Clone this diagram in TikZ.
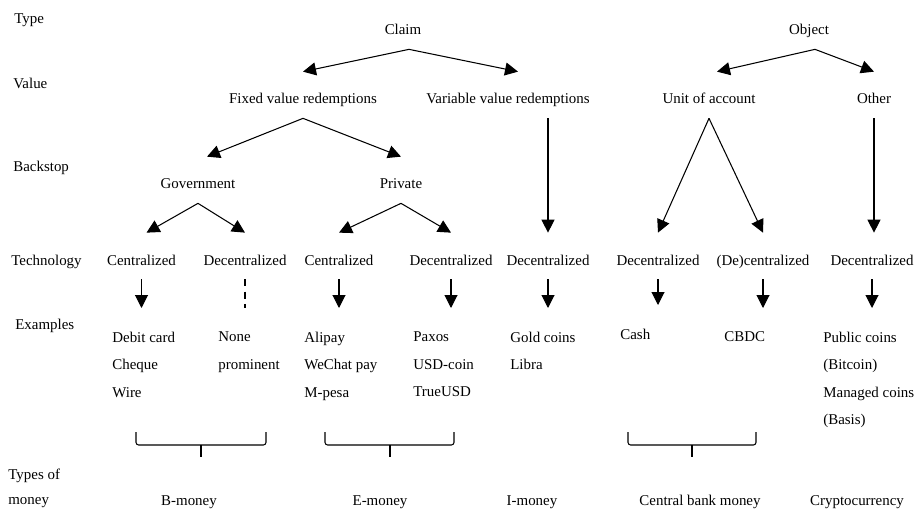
\documentclass[tikz,border=0pt]{standalone}
\usepackage{fontspec}
\setmainfont{Liberation Serif}
\usepackage{tikz}
\usetikzlibrary{arrows.meta}

\begin{document}
\begin{tikzpicture}[x=0.02cm, y=-0.02cm,
    every node/.style={font=\fontsize{8.5}{15.65}\selectfont},
    lvl/.style={anchor=base, inner sep=0pt, text height=0.64cm, text depth=0.28cm},
    riga/.style={anchor=base west, inner sep=0pt},
    esempi/.style={anchor=north west, align=left, inner xsep=0pt, inner ysep=0.47cm},
    freccia/.style={line width=0.6pt, -{Triangle[length=0.26cm, width=0.26cm]}},
    graffa/.style={line width=0.6pt, rounded corners=1.5pt}]
    \useasboundingbox (0,0) rectangle (917,510);

    % Etichette a sinistra
    \node[riga] (rType) at (14,24) {Type};
    \node[riga] (rValue) at (13,89) {Value};
    \node[riga] (rBack) at (13,172) {Backstop};
    \node[riga] (rTech) at (11,265) {Technology};
    \node[riga] (rEx) at (15,329) {Examples};
    \node[anchor=north west, align=left, inner sep=0pt,
        font=\fontsize{8.5}{14.2}\selectfont] (rMoney) at (8,469) {Types of\\money};

    % Albero
    \node[lvl] (claim) at (403,35) {Claim};
    \node[lvl] (object) at (809,35) {Object};
    \node[lvl] (fixed) at (303,104) {Fixed value redemptions};
    \node[lvl] (variable) at (508,104) {Variable value redemptions};
    \node[lvl] (unit) at (709,104) {Unit of account};
    \node[lvl] (other) at (874,104) {Other};
    \node[lvl] (gov) at (198,189) {Government};
    \node[lvl] (priv) at (401,189) {Private};

    \node[lvl] (cen1) at (141.5,265) {Centralized};
    \node[lvl] (dec1) at (245,265) {Decentralized};
    \node[lvl] (cen2) at (339,265) {Centralized};
    \node[lvl] (dec2) at (451,265) {Decentralized};
    \node[lvl] (dec3) at (548,265) {Decentralized};
    \node[lvl] (dec4) at (658,265) {Decentralized};
    \node[lvl] (decen) at (763,265) {(De)centralized};
    \node[lvl] (dec5) at (872,265) {Decentralized};

    % Esempi
    \node[esempi] (exA) at (112,308) {Debit card\\Cheque\\Wire};
    \node[esempi] (exB) at (218,308) {None\\prominent};
    \node[esempi] (exC) at (304,308) {Alipay\\WeChat pay\\M-pesa};
    \node[esempi] (exD) at (413,308) {Paxos\\USD-coin\\TrueUSD};
    \node[esempi] (exE) at (510,308) {Gold coins\\Libra};
    \node[esempi] (exF) at (620,305) {Cash};
    \node[esempi] (exG) at (724,308) {CBDC};
    \node[esempi] (exH) at (823,308) {Public coins\\(Bitcoin)\\Managed coins\\(Basis)};

    % Tipi di moneta
    \node[anchor=base, inner sep=0pt] (bmon) at (189,505) {B-money};
    \node[anchor=base, inner sep=0pt] (emon) at (380,505) {E-money};
    \node[anchor=base, inner sep=0pt] (imon) at (532,505) {I-money};
    \node[anchor=base, inner sep=0pt] (cbmon) at (700,505) {Central bank money};
    \node[anchor=base, inner sep=0pt] (crypto) at (857,505) {Cryptocurrency};

    % Frecce
    \draw[freccia] ([xshift=0.12cm]claim.south) -- (fixed.north);
    \draw[freccia] ([xshift=0.12cm]claim.south) -- ([xshift=0.2cm]variable.north);
    \draw[freccia] ([xshift=0.12cm]object.south) -- ([xshift=0.16cm]unit.north);
    \draw[freccia] ([xshift=0.12cm]object.south) -- (other.north);
    \draw[freccia] (fixed.south) -- ([xshift=0.18cm]gov.north);
    \draw[freccia] (fixed.south) -- (priv.north);
    \draw[freccia] (gov.south) -- ([xshift=0.1cm]cen1.north);
    \draw[freccia] (gov.south) -- (dec1.north);
    \draw[freccia] (priv.south) -- (cen2.north);
    \draw[freccia] (priv.south) -- (dec2.north);
    \draw[freccia] (variable.south -| dec3.north) -- (dec3.north);
    \draw[freccia] (unit.south) -- (dec4.north);
    \draw[freccia] (unit.south) -- (decen.north);
    \draw[freccia] (other.south) -- (other.south |- dec5.north);

    \draw[freccia] (cen1.south) -- (cen1.south |- exA.north);
    \draw[line width=0.6pt, dash pattern=on 4pt off 3pt] (dec1.south) -- (dec1.south |- exB.north);
    \draw[freccia] (cen2.south) -- (cen2.south |- exC.north);
    \draw[freccia] (dec2.south) -- (dec2.south |- exD.north);
    \draw[freccia] (dec3.south) -- (dec3.south |- exE.north);
    \draw[freccia] (dec4.south) -- (dec4.south |- exF.north);
    \draw[freccia] (decen.south) -- (decen.south |- exG.north);
    \draw[freccia] (dec5.south) -- (dec5.south |- exH.north);

    % Graffe
    \foreach \a/\m/\b in {136/201/266, 325/390/454, 628/692/756} {
        \draw[graffa] (\a,432) |- (\m,445) -| (\b,432);
        \draw[line width=0.6pt] (\m,445) -- (\m,457);
    }
\end{tikzpicture}
\end{document}
